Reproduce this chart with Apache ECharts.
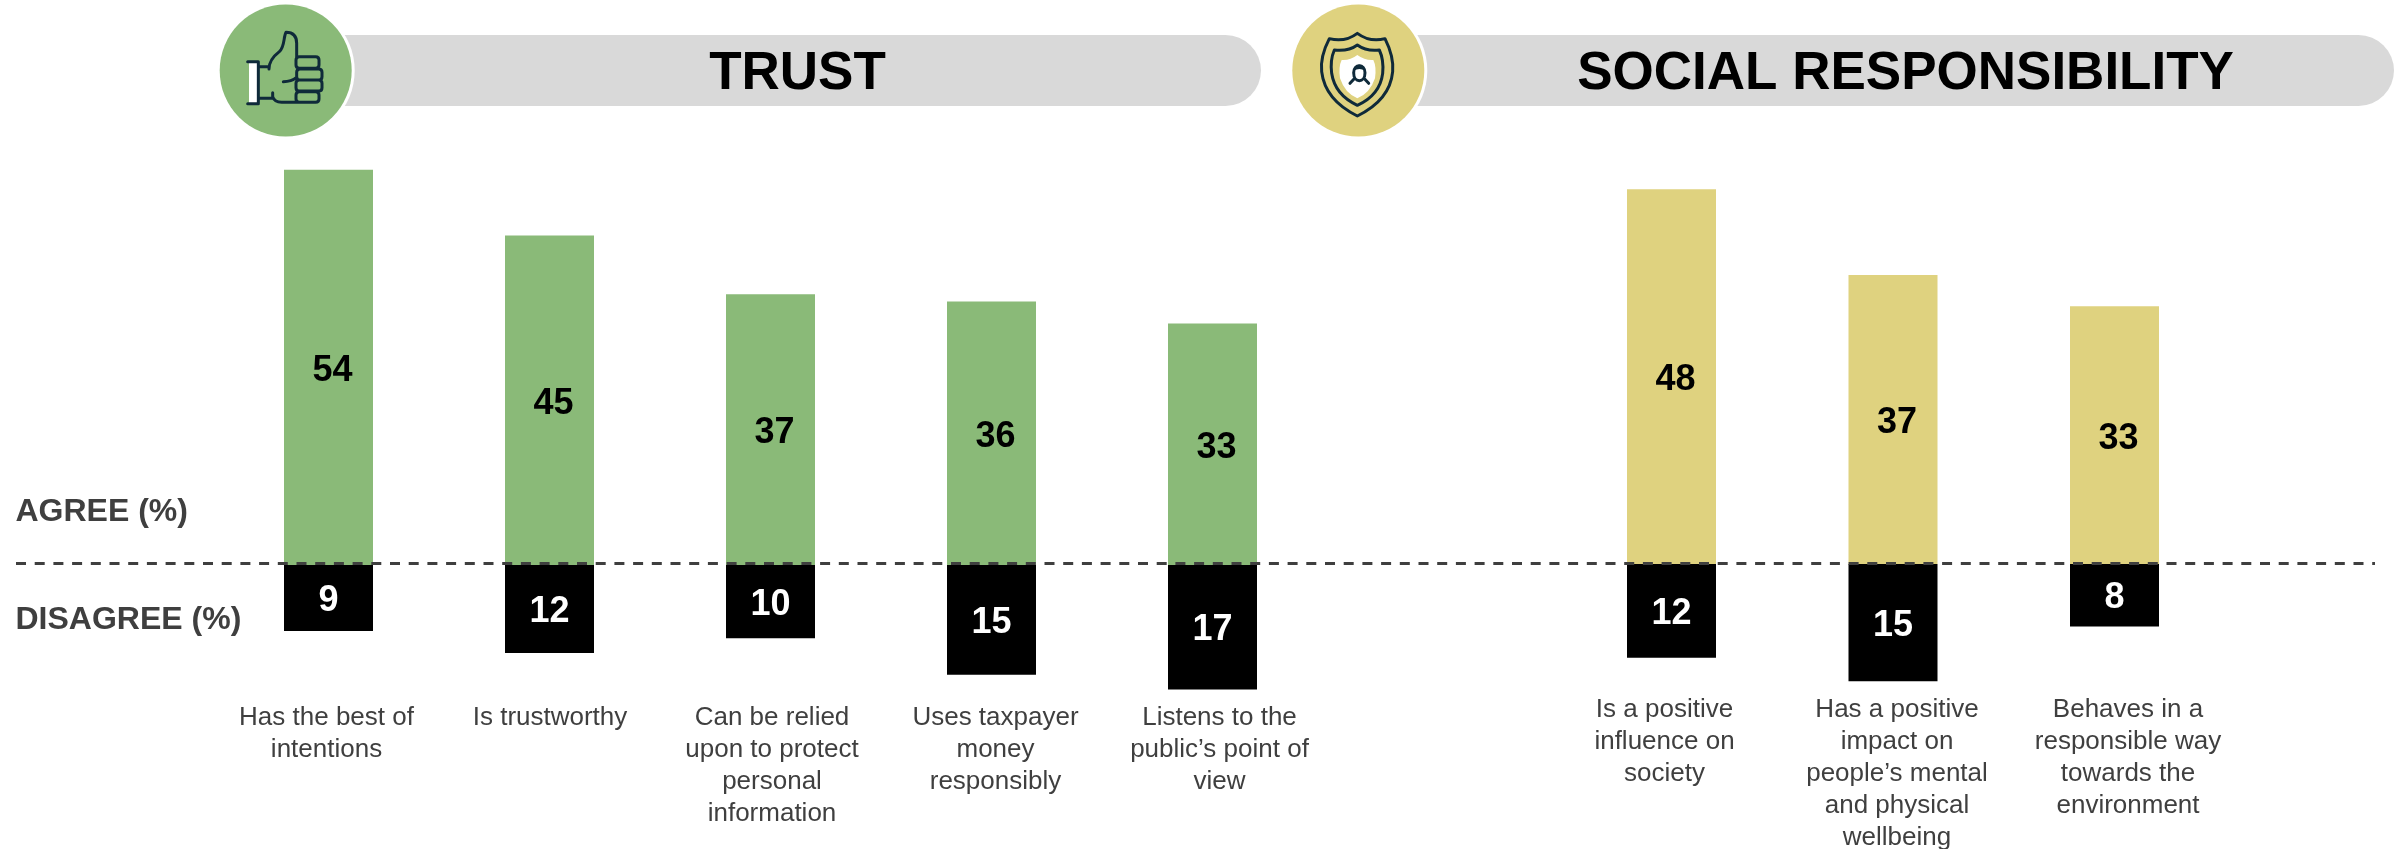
<!DOCTYPE html>
<html>
<head>
<meta charset="utf-8">
<title>Trust and social responsibility</title>
<style>
  html, body { margin: 0; padding: 0; background: #fff; }
  #chart { width: 2394px; height: 849px; }
</style>
<script src="https://cdn.jsdelivr.net/npm/echarts@6/dist/echarts.min.js"></script>
</head>
<body>
<div id="chart"></div>
<script>
// Survey results: share agreeing and disagreeing with each statement (%)
const trustStatements = [
  'Has the best of\nintentions',
  'Is trustworthy',
  'Can be relied\nupon to protect\npersonal\ninformation',
  'Uses taxpayer\nmoney\nresponsibly',
  'Listens to the\npublic\u2019s point of\nview'
];
const trustAgree = [54, 45, 37, 36, 33];
const trustDisagree = [9, 12, 10, 15, 17];

const socialStatements = [
  'Is a positive\ninfluence on\nsociety',
  'Has a positive\nimpact on\npeople\u2019s mental\nand physical\nwellbeing',
  'Behaves in a\nresponsible way\ntowards the\nenvironment'
];
const socialAgree = [48, 37, 33];
const socialDisagree = [12, 15, 8];

// Horizontal nudges of the statement captions relative to their bars (px)
const trustCaptionShift = [-2, 0.5, 1.5, 4, 7];
const socialCaptionShift = [-7, 4, 13.5];

const FONT = '"Liberation Sans", Arial, sans-serif';
const GREEN = '#8aba78';
const YELLOW = '#dfd27f';
const PILL = '#d9d9d9';
const INK = '#3f3f3f';
const ICON = '#0f2a3a';

function captionItems(texts, shifts) {
  return texts.map((value, i) => {
    const d = shifts[i] * 2;
    return { value, textStyle: { padding: d >= 0 ? [0, 0, 0, d] : [0, -d, 0, 0] } };
  });
}

function categoryAxis(gridIndex, items, margin) {
  return {
    type: 'category', gridIndex, data: items, position: 'bottom',
    axisLine: { show: false, onZero: false }, axisTick: { show: false },
    axisLabel: {
      interval: 0, margin, fontFamily: FONT, fontSize: 26, lineHeight: 32,
      color: INK, align: 'center', verticalAlign: 'top'
    }
  };
}

function valueAxis(gridIndex, min, max) {
  return { type: 'value', gridIndex, min, max, show: false, splitLine: { show: false } };
}

function agreeSeries(axisIndex, values, color) {
  return {
    type: 'bar', xAxisIndex: axisIndex, yAxisIndex: axisIndex, stack: 'p' + axisIndex,
    barWidth: 89, data: values, itemStyle: { color },
    label: {
      show: true, position: 'inside', offset: [4, 3.5], color: '#000',
      fontFamily: FONT, fontSize: 36, fontWeight: 'bold'
    }
  };
}

function disagreeSeries(axisIndex, values) {
  return {
    type: 'bar', xAxisIndex: axisIndex, yAxisIndex: axisIndex, stack: 'p' + axisIndex,
    barWidth: 89, data: values.map(v => -v), itemStyle: { color: '#000' },
    label: {
      show: true, position: 'inside', offset: [0, 3], color: '#fff',
      fontFamily: FONT, fontSize: 36, fontWeight: 'bold',
      formatter: p => Math.abs(p.value)
    }
  };
}

// Rounded rectangle as a path fragment
function rr(x0, y0, x1, y1, r) {
  return `M${x0 + r} ${y0}L${x1 - r} ${y0}Q${x1} ${y0} ${x1} ${y0 + r}L${x1} ${y1 - r}Q${x1} ${y1} ${x1 - r} ${y1}` +
         `L${x0 + r} ${y1}Q${x0} ${y1} ${x0} ${y1 - r}L${x0} ${y0 + r}Q${x0} ${y0} ${x0 + r} ${y0}Z`;
}

// Icon artwork is authored on a 600x480 box; the leading moves pin the box so it maps onto the rect
function iconPath(pathData, ox, style) {
  return {
    type: 'path',
    shape: { pathData: 'M0 0M600 480' + pathData, x: ox, y: 0, width: 200, height: 160, layout: 'cover' },
    style
  };
}

const thumbLines =
  'M143 185L175 185L175 311M143 311L175 311M175 200L207 200M175 295L218 295' +
  'M207 207C207 180 225 165 238 155C255 140 250 110 258 97C285 97 290 115 290 130L290 172' +
  'M218 278L218 290C222 303 235 307 245 307L290 307' +
  'M250 245C270 245 280 240 290 232' +
  rr(288, 170, 357, 205, 10) + rr(290, 207, 366, 240, 10) + rr(288, 240, 366, 273, 10) + rr(288, 275, 357, 307, 10);

const shieldOuter = 'M262 100Q225 128 178 116Q150 170 155 215Q165 300 262 348Q360 300 368 215Q372 170 345 116Q300 128 262 100Z';
const shieldInner = 'M262 135Q235 155 193 150Q180 180 185 220Q195 285 262 316Q330 285 338 220Q342 180 328 150Q290 155 262 135Z';
const shieldCore = 'M262 165Q240 182 215 180Q205 200 210 235Q225 280 262 295Q300 280 315 235Q320 200 310 180Q285 182 262 165Z';
const personLines = 'M240 250L252 237M296 250L284 237' +
  'M251 218C251 190 285 190 285 218C285 250 251 250 251 218Z';
const personHair = 'M251 214C251 188 285 188 285 214C275 205 262 205 251 214Z';

const iconStroke = { fill: 'none', stroke: ICON, lineWidth: 3, lineCap: 'round', lineJoin: 'round' };

const headerIcons = {
  type: 'custom', coordinateSystem: 'none', z: 10, silent: true, data: [0],
  renderItem: () => ({
    type: 'group',
    children: [
      { type: 'rect', shape: { x: 249, y: 63, width: 8, height: 40 }, style: { fill: '#fff' } },
      iconPath(thumbLines, 200, iconStroke),
      iconPath(shieldCore, 1270, { fill: '#fff' }),
      iconPath(shieldOuter + shieldInner, 1270, iconStroke),
      iconPath(personLines, 1270, iconStroke),
      iconPath(personHair, 1270, { fill: ICON })
    ]
  })
};

const decorations = [
  // Header pills, rounded on the right only; their left ends sit under the badges
  { type: 'rect', z: 1, shape: { x: 330, y: 35, width: 931, height: 71, r: [0, 35.5, 35.5, 0] }, style: { fill: PILL } },
  { type: 'rect', z: 1, shape: { x: 1400, y: 35, width: 994, height: 71, r: [0, 35.5, 35.5, 0] }, style: { fill: PILL } },
  // Header badges
  { type: 'circle', z: 2, shape: { cx: 285.7, cy: 70.5, r: 69 }, style: { fill: '#fff' } },
  { type: 'circle', z: 3, shape: { cx: 285.7, cy: 70.5, r: 66 }, style: { fill: GREEN } },
  { type: 'circle', z: 2, shape: { cx: 1358.3, cy: 70.5, r: 69 }, style: { fill: '#fff' } },
  { type: 'circle', z: 3, shape: { cx: 1358.3, cy: 70.5, r: 66 }, style: { fill: YELLOW } },
  // Header titles
  { type: 'text', z: 6, x: 797.5, y: 74, style: { text: 'TRUST', fontFamily: FONT, fontSize: 53, fontWeight: 'bold', fill: '#000', align: 'center', verticalAlign: 'middle' } },
  { type: 'text', z: 6, x: 1905.6, y: 74, style: { text: 'SOCIAL RESPONSIBILITY', fontFamily: FONT, fontSize: 53, fontWeight: 'bold', fill: '#000', align: 'center', verticalAlign: 'middle' } },
  // Side labels
  { type: 'text', z: 6, x: 15.5, y: 512, style: { text: 'AGREE (%)', fontFamily: FONT, fontSize: 32, fontWeight: 'bold', fill: INK, align: 'left', verticalAlign: 'middle' } },
  { type: 'text', z: 6, x: 15.5, y: 620, style: { text: 'DISAGREE (%)', fontFamily: FONT, fontSize: 32, fontWeight: 'bold', fill: INK, align: 'left', verticalAlign: 'middle' } },
  // Dashed divider between agree and disagree
  { type: 'line', z: 50, shape: { x1: 16, y1: 563.5, x2: 2375, y2: 563.5 }, style: { stroke: INK, lineWidth: 3, lineDash: [10, 8.7] } }
];

const chart = echarts.init(document.getElementById('chart'), null, { renderer: 'canvas' });
chart.setOption({
  animation: false,
  backgroundColor: '#fff',
  grid: [
    // Each panel has its own scale: 7.32 px per point on the left, 7.81 on the right
    { left: 218, width: 1105, top: 125.8, height: 571, outerBoundsMode: 'none' },
    { left: 1560.75, width: 664.5, top: 95.4, height: 593.6, outerBoundsMode: 'none' }
  ],
  xAxis: [
    categoryAxis(0, captionItems(trustStatements, trustCaptionShift), 5),
    categoryAxis(1, captionItems(socialStatements, socialCaptionShift), 4.5)
  ],
  yAxis: [valueAxis(0, -18, 60), valueAxis(1, -16, 60)],
  series: [
    agreeSeries(0, trustAgree, GREEN),
    disagreeSeries(0, trustDisagree),
    agreeSeries(1, socialAgree, YELLOW),
    disagreeSeries(1, socialDisagree),
    headerIcons
  ],
  graphic: { elements: decorations }
});
</script>
</body>
</html>
